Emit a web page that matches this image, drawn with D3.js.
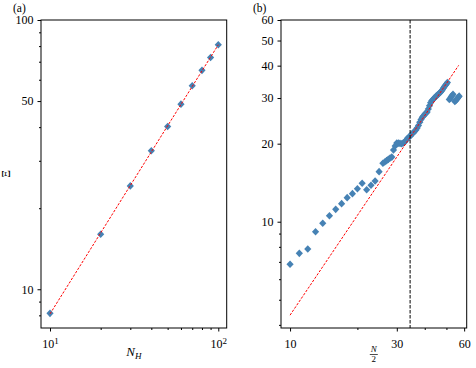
<!DOCTYPE html>
<html>
<head>
<meta charset="utf-8">
<script src="https://cdn.jsdelivr.net/npm/d3@7"></script>
<style>
  body { margin: 0; background: #fff; }
  text { font-family: "Liberation Serif", "DejaVu Serif", serif; fill: #000; }
</style>
</head>
<body>
<div id="chart"></div>
<script>
// panel (a): Xi vs N_H
const nH = [10, 20, 30, 40, 50, 60, 70, 80, 90, 100];
const xiA = [8.14, 16.0, 24.2, 32.7, 40.2, 48.7, 57.0, 65.0, 72.6, 80.9];
const fitAx = [10, 100];
const fitAy = [8.1, 80.9];

// panel (b): Xi vs N/2
const halfN = [10, 11, 12, 13, 14, 15, 16, 17, 18, 19, 20, 21, 22, 23, 24, 25, 26,
  26.5, 27, 27.5, 28, 28.5, 29, 29.5, 30, 30.5, 31, 31.5, 32, 32.5, 33, 33.5, 34,
  34.5, 35, 35.5, 36, 36.5, 37, 37.5, 38, 38.5, 39, 39.5, 40, 40.5, 41, 41.5, 42,
  42.5, 43, 43.5, 44, 44.5, 45, 45.5, 46, 46.5, 47, 47.5, 48, 48.5, 49, 49.5, 50, 50.5,
  51.5, 52, 52.5, 53, 53.5, 54.5, 55, 55.5, 56, 56.5, 57];
const xiB = [6.85, 7.55, 7.85, 9.15, 9.86, 10.55, 11.16, 11.74, 12.38, 12.83, 13.41, 14.07, 13.29, 13.82, 14.36, 15.6, 16.81,
  17.0, 17.2, 17.4, 17.6, 17.75, 18.9, 19.6, 20.1, 20.1, 20.05, 20.0, 20.1, 20.3, 20.6, 21.0, 21.2,
  21.4, 21.8, 22.0, 22.3, 22.6, 23.0, 23.5, 24.2, 24.8, 25.3, 25.6, 26.0, 26.2, 26.5, 27.2, 28.0,
  28.8, 29.3, 29.6, 29.9, 30.2, 30.5, 30.8, 31.0, 31.3, 31.6, 31.9, 32.3, 32.8, 33.2, 33.6, 34.0, 34.4,
  29.6, 29.9, 30.3, 30.7, 31.0, 29.1, 29.3, 29.6, 29.9, 30.2, 30.5];
const fitBx = [10, 56.7];
const fitBy = [4.36, 40.1];
const cutB = 34.4;

const svg = d3.select("#chart").append("svg")
  .attr("width", 476).attr("height", 368);

const diamond = "M0,-3.8L3.6,0L0,3.8L-3.6,0Z";

function drawPanel(p) {
  const x = d3.scaleLog().domain(p.xDomain).range([p.left, p.right]);
  const y = d3.scaleLog().domain(p.yDomain).range([p.bottom, p.top]);
  const g = svg.append("g");

  // ticks
  function axis(gen, vals, size, fmt, tr) {
    const a = g.append("g").attr("transform", tr)
      .call(gen.tickValues(vals).tickSize(size).tickSizeOuter(0).tickPadding(4).tickFormat(fmt));
    a.select(".domain").remove();
    a.selectAll("text").style("font-family", "Liberation Serif, serif").style("font-size", "12px");
    return a;
  }
  axis(d3.axisBottom(x), p.xMinor, 2, () => "", `translate(0,${p.bottom})`);
  const xa = axis(d3.axisBottom(x), p.xMajor, 3.5, () => "", `translate(0,${p.bottom})`);
  xa.selectAll(".tick text").each(function(d, i) {
    const t = d3.select(this).attr("dy", "1.05em");
    const lab = p.xLabels[i];
    if (lab.sup) {
      t.append("tspan").text(lab.base);
      t.append("tspan").attr("dy", "-0.45em").style("font-size", "9px").text(lab.sup);
    } else {
      t.text(lab.base);
    }
  });
  axis(d3.axisLeft(y), p.yMinor, 2, () => "", `translate(${p.left},0)`);
  axis(d3.axisLeft(y), p.yMajor, 3.5, d => d, `translate(${p.left},0)`);

  // points
  g.selectAll("path.pt").data(p.xs).enter().append("path")
    .attr("class", "pt")
    .attr("d", diamond)
    .attr("fill", "#4682b4")
    .attr("transform", (d, i) => `translate(${x(d)},${y(p.ys[i])})`);

  // fit line
  const line = d3.line().x(d => x(d[0])).y(d => y(d[1]));
  g.append("path")
    .attr("d", line(p.fitX.map((v, i) => [v, p.fitY[i]])))
    .attr("fill", "none").attr("stroke", "#ff0000")
    .attr("stroke-width", 1).attr("stroke-dasharray", "2.5,1.5");

  if (p.cut) {
    g.append("line")
      .attr("x1", x(p.cut)).attr("x2", x(p.cut))
      .attr("y1", p.top).attr("y2", p.bottom)
      .attr("stroke", "#000").attr("stroke-width", 1).attr("stroke-dasharray", "3.5,1.5");
  }

  // frame
  g.append("rect")
    .attr("x", p.left).attr("y", p.top)
    .attr("width", p.right - p.left).attr("height", p.bottom - p.top)
    .attr("fill", "none").attr("stroke", "#000").attr("stroke-width", 1);

  // panel tag
  g.append("text").attr("x", p.left - 28).attr("y", 11.5)
    .style("font-size", "11.5px").text(p.tag);
  return { x, y, g };
}

const pa = drawPanel({
  left: 41, right: 226.7, top: 20, bottom: 328,
  xDomain: [8.84, 112.2], yDomain: [7.18, 100],
  xMajor: [10, 100], xLabels: [{ base: "10", sup: "1" }, { base: "10", sup: "2" }],
  xMinor: [20, 30, 40, 50, 60, 70, 80, 90],
  yMajor: [10, 50, 100], yMinor: [8, 9, 20, 30, 40, 60, 70, 80, 90],
  xs: nH, ys: xiA, fitX: fitAx, fitY: fitAy, tag: "(a)"
});

const pb = drawPanel({
  left: 281, right: 466.7, top: 20, bottom: 328,
  xDomain: [9.11, 61.6], yDomain: [3.89, 60],
  xMajor: [10, 30, 60], xLabels: [{ base: "10" }, { base: "30" }, { base: "60" }],
  xMinor: [20, 40, 50],
  yMajor: [10, 20, 30, 40, 50, 60], yMinor: [4, 5, 6, 7, 8, 9],
  xs: halfN, ys: xiB, fitX: fitBx, fitY: fitBy, cut: cutB, tag: "(b)"
});

// axis labels
const xl = svg.append("text").attr("x", 133.8).attr("y", 356)
  .attr("text-anchor", "middle").style("font-size", "13px");
xl.append("tspan").style("font-style", "italic").text("N");
xl.append("tspan").attr("dy", "3").style("font-style", "italic").style("font-size", "9px").text("H");

svg.append("text").attr("transform", "translate(10,174) rotate(-90)")
  .attr("text-anchor", "middle").style("font-size", "12px").text("Ξ");

const fx = 373.8;
svg.append("text").attr("x", fx).attr("y", 352).attr("text-anchor", "middle")
  .style("font-size", "9px").style("font-style", "italic").text("N");
svg.append("line").attr("x1", fx - 4).attr("x2", fx + 4).attr("y1", 354.5).attr("y2", 354.5)
  .attr("stroke", "#000").attr("stroke-width", 0.7);
svg.append("text").attr("x", fx).attr("y", 362).attr("text-anchor", "middle")
  .style("font-size", "9px").text("2");
</script>
</body>
</html>
